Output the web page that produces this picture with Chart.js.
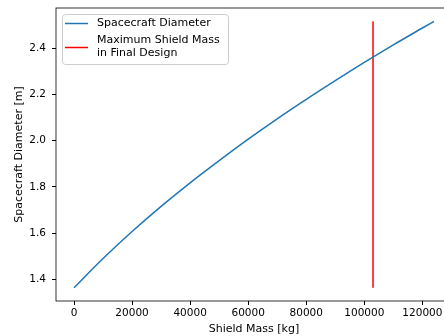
<!DOCTYPE html>
<html>
<head>
<meta charset="utf-8">
<script src="https://cdn.jsdelivr.net/npm/chart.js@4/dist/chart.umd.min.js"></script>
<style>
  html, body { margin: 0; padding: 0; background: #fff; overflow: hidden; }
  #wrap { position: absolute; left: 0; top: 0; width: 470px; height: 336px; }
</style>
</head>
<body>
<div id="wrap"><canvas id="c"></canvas></div>
<script>
// Shield mass [kg] and resulting spacecraft diameter [m]
const shieldMass = [0, 10000, 20000, 30000, 40000, 50000, 60000, 70000, 80000, 90000, 100000, 110000, 120000, 124000];
const diameter   = [1.364, 1.490, 1.607, 1.716, 1.818, 1.914, 2.007, 2.095, 2.179, 2.260, 2.339, 2.415, 2.488, 2.517];

// Shield mass chosen for the final design
const maxShieldMass = 103000;

const xTicks = [0, 20000, 40000, 60000, 80000, 100000, 120000];
const yTicks = [1.4, 1.6, 1.8, 2.0, 2.2, 2.4];

const seriesNames = ['Spacecraft Diameter', ['Maximum Shield Mass', 'in Final Design']];
const seriesColors = ['#1f77b4', '#ff0000'];

const FONT = 'DejaVu Sans';
const TICK_SIZE = 10.5;
const TEXT_SIZE = 11;

const curve = shieldMass.map((m, i) => ({ x: m, y: diameter[i] }));
const dMin = Math.min(...diameter), dMax = Math.max(...diameter);
const marker = [{ x: maxShieldMass, y: dMin }, { x: maxShieldMass, y: dMax }];

// 5% margins around the data
const xSpan = Math.max(...shieldMass) - Math.min(...shieldMass);
const ySpan = dMax - dMin;

const frame = {
  id: 'frame',
  afterDraw(chart) {
    const { ctx, chartArea: a } = chart;
    ctx.save();
    ctx.strokeStyle = '#000';
    ctx.lineWidth = 0.8;
    ctx.strokeRect(a.left, a.top, a.right - a.left, a.bottom - a.top);
    ctx.restore();
  }
};

const legendBox = {
  id: 'legendBox',
  afterDraw(chart) {
    const { ctx } = chart;
    const x = 62, y = 14, w = 166, h = 50;
    ctx.save();
    ctx.beginPath();
    ctx.roundRect(x + 0.5, y + 0.5, w, h, 3);
    ctx.fillStyle = 'rgba(255,255,255,0.8)';
    ctx.fill();
    ctx.strokeStyle = '#cccccc';
    ctx.lineWidth = 1;
    ctx.stroke();
    ctx.font = TEXT_SIZE + 'px "' + FONT + '"';
    ctx.fillStyle = '#000';
    ctx.textBaseline = 'middle';
    const rows = [[23.5], [40.5, 53]];
    const lineY = [23.5, 47.5];
    seriesNames.forEach((name, i) => {
      ctx.beginPath();
      ctx.moveTo(65, lineY[i]);
      ctx.lineTo(88, lineY[i]);
      ctx.strokeStyle = seriesColors[i];
      ctx.lineWidth = 1.5;
      ctx.stroke();
      const lines = Array.isArray(name) ? name : [name];
      lines.forEach((t, j) => ctx.fillText(t, 97, rows[i][j]));
    });
    ctx.restore();
  }
};

new Chart(document.getElementById('c'), {
  type: 'scatter',
  data: {
    datasets: [
      { label: 'Spacecraft Diameter', data: curve, showLine: true, borderColor: seriesColors[0], borderWidth: 1.5, pointRadius: 0, cubicInterpolationMode: 'monotone' },
      { label: 'Maximum Shield Mass in Final Design', data: marker, showLine: true, borderColor: seriesColors[1], borderWidth: 1.5, pointRadius: 0 }
    ]
  },
  options: {
    responsive: true,
    maintainAspectRatio: false,
    animation: false,
    events: [],
    layout: { padding: { left: 0, top: 8, right: 18, bottom: 0 } },
    plugins: { legend: { display: false }, tooltip: { enabled: false } },
    scales: {
      x: {
        type: 'linear',
        min: Math.min(...shieldMass) - 0.05 * xSpan,
        max: Math.max(...shieldMass) + 0.05 * xSpan,
        afterBuildTicks: s => { s.ticks = xTicks.map(v => ({ value: v })); },
        afterFit: s => { s.height = 35; s.paddingLeft = 0; s.paddingRight = 0; },
        grid: { drawOnChartArea: false, drawTicks: true, tickLength: 4, tickColor: '#000' },
        border: { display: false },
        ticks: { color: '#000', padding: 2, maxRotation: 0, font: { family: FONT, size: TICK_SIZE }, callback: v => String(v) },
        title: { display: true, text: 'Shield Mass [kg]', color: '#000', padding: { top: 1, bottom: 0 }, font: { family: FONT, size: TEXT_SIZE } }
      },
      y: {
        type: 'linear',
        min: dMin - 0.05 * ySpan,
        max: dMax + 0.05 * ySpan,
        afterBuildTicks: s => { s.ticks = yTicks.map(v => ({ value: v })); },
        afterFit: s => { s.width = 56; s.paddingTop = 0; s.paddingBottom = 0; },
        grid: { drawOnChartArea: false, drawTicks: true, tickLength: 4, tickColor: '#000' },
        border: { display: false },
        ticks: { color: '#000', padding: 6, font: { family: FONT, size: TICK_SIZE }, callback: v => v.toFixed(1) },
        title: { display: true, text: 'Spacecraft Diameter [m]', color: '#000', padding: { top: 13, bottom: 0 }, font: { family: FONT, size: TEXT_SIZE } }
      }
    }
  },
  plugins: [frame, legendBox]
});
</script>
</body>
</html>
